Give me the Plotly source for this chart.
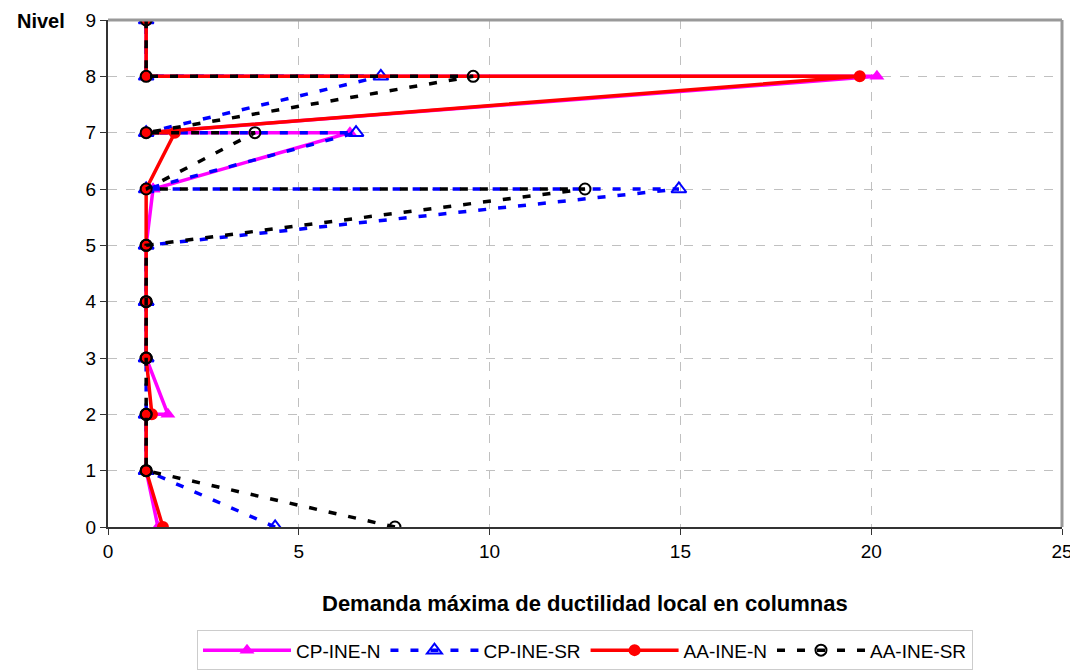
import plotly.graph_objects as go

# niveles: cada entrepiso aporta (extremo inferior, extremo superior)
niveles = [0, 1, 1, 2, 2, 3, 3, 4, 4, 5, 5, 6, 6, 7, 7, 8, 8, 9]

cp_ine_n = [1.31, 1, 1, 1, 1.57, 1, 1, 1, 1, 1, 1, 1.18, 1.18, 6.34, 1, 20.15, 1, 1]
cp_ine_sr = [4.38, 1, 1, 1, 1, 1, 1, 1, 1, 1, 1, 14.96, 1, 6.5, 1, 7.15, 1, 1]
aa_ine_n = [1.44, 1, 1, 1, 1.15, 1, 1, 1, 1, 1, 1, 1, 1, 1.75, 1, 19.7, 1, 1]
aa_ine_sr = [7.52, 1, 1, 1, 1, 1, 1, 1, 1, 1, 1, 12.5, 1, 3.85, 1, 9.57, 1, 1]

x_ticks = [0, 5, 10, 15, 20, 25]
y_ticks = list(range(10))

FONT = "Liberation Sans, Arial, sans-serif"

fig = go.Figure()

fig.add_trace(go.Scatter(x=cp_ine_n, y=niveles, mode="lines+markers", name="CP-INE-N",
                         line=dict(color="#ff00ff", width=3.5),
                         marker=dict(symbol="triangle-up", size=13, color="#ff00ff")))
fig.add_trace(go.Scatter(x=cp_ine_sr, y=niveles, mode="lines+markers", name="CP-INE-SR",
                         line=dict(color="#0000ff", width=3.5, dash="8px,12px"),
                         marker=dict(symbol="triangle-up-open", size=13, color="#0000ff",
                                     line=dict(width=2, color="#0000ff"))))
fig.add_trace(go.Scatter(x=aa_ine_n, y=niveles, mode="lines+markers", name="AA-INE-N",
                         line=dict(color="#ff0000", width=3.5),
                         marker=dict(symbol="circle", size=12, color="#ff0000")))
fig.add_trace(go.Scatter(x=aa_ine_sr, y=niveles, mode="lines+markers", name="AA-INE-SR",
                         line=dict(color="#000000", width=3.5, dash="8px,12px"),
                         marker=dict(symbol="circle-open", size=11, color="#000000",
                                     line=dict(width=2, color="#000000"))))

# la página deja 8 px de margen; se compensa en el tamaño
fig.update_layout(
    width=1070, height=662,
    margin=dict(l=100, r=16, t=12, b=143),
    paper_bgcolor="white", plot_bgcolor="white",
    font=dict(family=FONT, size=19, color="black"),
    showlegend=True,
    legend=dict(orientation="h", x=0.5, xanchor="center",
                yref="container", y=0.06, yanchor="top",
                bordercolor="#cccccc", borderwidth=1, font=dict(size=19),
                itemwidth=88, tracegroupgap=0),
)

fig.update_xaxes(range=[0, 25], tickvals=x_ticks, showgrid=True,
                 gridcolor="#c0c0c0", griddash="dash", gridwidth=1,
                 showline=True, linecolor="#333333", linewidth=2, mirror=False,
                 ticks="outside", ticklen=6, tickcolor="#333333",
                 zeroline=False, tickfont=dict(size=19), automargin=False)
fig.update_yaxes(range=[0, 9], tickvals=y_ticks, showgrid=True,
                 gridcolor="#c0c0c0", griddash="dash", gridwidth=1,
                 showline=True, linecolor="#333333", linewidth=2,
                 ticks="outside", ticklen=6, tickcolor="#333333",
                 zeroline=False, tickfont=dict(size=19), automargin=False)

# marco superior y derecho gris
fig.add_shape(type="line", xref="paper", yref="paper", x0=0, x1=1, y0=1, y1=1,
              line=dict(color="#999999", width=3))
fig.add_shape(type="line", xref="paper", yref="paper", x0=1, x1=1, y0=0, y1=1,
              line=dict(color="#999999", width=3))

fig.add_annotation(text="<b>Nivel</b>", xref="paper", yref="paper", x=-0.098, y=1.0,
                   xanchor="left", yanchor="middle", showarrow=False, yshift=-1,
                   font=dict(size=20, family=FONT))
fig.add_annotation(text="<b>Demanda máxima de ductilidad local en columnas</b>",
                   xref="paper", yref="paper", x=0.5, y=-0.15, xanchor="center",
                   yanchor="middle", showarrow=False, font=dict(size=22, family=FONT))

fig.write_html("out.html")
